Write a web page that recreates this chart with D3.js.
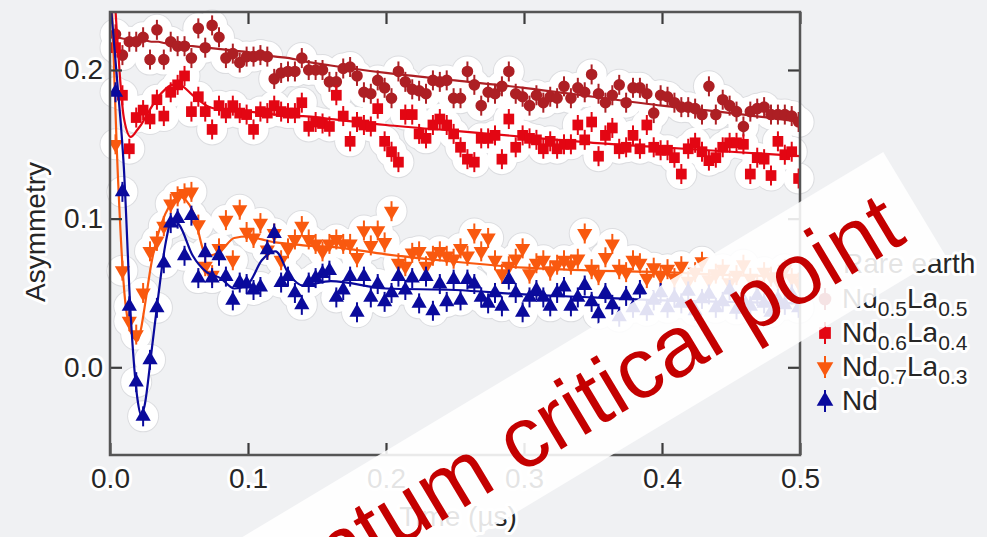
<!DOCTYPE html>
<html>
<head>
<meta charset="utf-8">
<script src="https://cdn.jsdelivr.net/npm/d3@7"></script>
<style>
  body { margin: 0; background: #f0f1f3; }
  svg { display: block; font-family: "Liberation Sans", Arial, sans-serif; }
</style>
</head>
<body>
<svg width="987" height="537"></svg>
<script>
// time bins (us)
var times = [
  0.004, 0.009, 0.014, 0.019, 0.024, 0.029, 0.034, 0.039, 0.044, 0.049,
  0.054, 0.059, 0.064, 0.069, 0.074, 0.079, 0.084, 0.089, 0.094, 0.099,
  0.104, 0.109, 0.114, 0.119, 0.124, 0.129, 0.134, 0.139, 0.144, 0.149,
  0.154, 0.159, 0.164, 0.169, 0.174, 0.179, 0.184, 0.189, 0.194, 0.199,
  0.204, 0.209, 0.214, 0.219, 0.224, 0.229, 0.234, 0.239, 0.244, 0.249,
  0.254, 0.259, 0.264, 0.269, 0.274, 0.279, 0.284, 0.289, 0.294, 0.299,
  0.304, 0.309, 0.314, 0.319, 0.324, 0.329, 0.334, 0.339, 0.344, 0.349,
  0.354, 0.359, 0.364, 0.369, 0.374, 0.379, 0.384, 0.389, 0.394, 0.399,
  0.404, 0.409, 0.414, 0.419, 0.424, 0.429, 0.434, 0.439, 0.444, 0.449,
  0.454, 0.459, 0.464, 0.469, 0.474, 0.479, 0.484, 0.489, 0.494, 0.499
];

// Nd0.5La0.5
var nd05 = [
  0.224, 0.210, 0.219, 0.219, 0.222, 0.207, 0.227, 0.207, 0.219, 0.216,
  0.216, 0.208, 0.228, 0.215, 0.230, 0.222, 0.208, 0.211, 0.205, 0.209,
  0.209, 0.210, 0.209, 0.194, 0.198, 0.199, 0.199, 0.208, 0.200, 0.200,
  0.200, 0.192, 0.192, 0.201, 0.202, 0.196, 0.185, 0.184, 0.193, 0.188,
  0.181, 0.199, 0.192, 0.187, 0.186, 0.184, 0.193, 0.192, 0.193, 0.181,
  0.181, 0.199, 0.190, 0.176, 0.185, 0.184, 0.189, 0.199, 0.184, 0.182,
  0.176, 0.183, 0.178, 0.182, 0.181, 0.189, 0.181, 0.188, 0.185, 0.197,
  0.184, 0.178, 0.183, 0.190, 0.178, 0.188, 0.188, 0.184, 0.171, 0.183,
  0.182, 0.178, 0.175, 0.175, 0.174, 0.170, 0.189, 0.170, 0.180, 0.176,
  0.172, 0.162, 0.172, 0.174, 0.175, 0.170, 0.170, 0.170, 0.169, 0.165
];

// Nd0.6La0.4
var nd06 = [
  0.215, 0.183, 0.147, 0.168, 0.173, 0.167, 0.180, 0.169, 0.185, 0.190,
  0.196, 0.172, 0.182, 0.172, 0.160, 0.176, 0.171, 0.176, 0.171, 0.170,
  0.160, 0.172, 0.171, 0.176, 0.172, 0.171, 0.171, 0.178, 0.162, 0.165,
  0.164, 0.162, 0.183, 0.169, 0.152, 0.165, 0.163, 0.162, 0.174, 0.152,
  0.145, 0.138, 0.170, 0.170, 0.157, 0.154, 0.163, 0.167, 0.163, 0.157,
  0.148, 0.140, 0.138, 0.154, 0.154, 0.156, 0.140, 0.167, 0.148, 0.156,
  0.154, 0.153, 0.147, 0.152, 0.147, 0.150, 0.150, 0.163, 0.153, 0.165,
  0.142, 0.156, 0.161, 0.147, 0.148, 0.156, 0.147, 0.163, 0.148, 0.146,
  0.146, 0.141, 0.130, 0.147, 0.151, 0.145, 0.139, 0.141, 0.148, 0.151,
  0.151, 0.150, 0.130, 0.141, 0.140, 0.129, 0.152, 0.143, 0.145, 0.127
];

// Nd0.7La0.3
var nd07 = [
  0.150, 0.065, 0.031, 0.022, 0.050, 0.078, 0.085, 0.095, 0.110, 0.115,
  0.117, 0.118, 0.096, 0.068, 0.062, 0.080, 0.099, 0.072, 0.106, 0.091,
  0.087, 0.097, 0.079, 0.090, 0.072, 0.080, 0.086, 0.095, 0.086, 0.083,
  0.078, 0.083, 0.086, 0.083, 0.083, 0.074, 0.092, 0.082, 0.092, 0.084,
  0.105, 0.070, 0.068, 0.077, 0.078, 0.068, 0.075, 0.078, 0.075, 0.073,
  0.080, 0.075, 0.090, 0.078, 0.087, 0.072, 0.063, 0.068, 0.073, 0.080,
  0.063, 0.070, 0.072, 0.065, 0.069, 0.072, 0.069, 0.073, 0.090, 0.066,
  0.062, 0.074, 0.083, 0.066, 0.064, 0.072, 0.070, 0.060, 0.067, 0.062,
  0.066, 0.060, 0.068, 0.058, 0.064, 0.071, 0.059, 0.063, 0.066, 0.057,
  0.062, 0.069, 0.060, 0.056, 0.064, 0.061, 0.058, 0.066, 0.060, 0.057
];

// Nd
var nd = [
  0.185, 0.118, 0.041, -0.010, -0.033, 0.005, 0.040, 0.070, 0.097, 0.100,
  0.075, 0.102, 0.060, 0.077, 0.060, 0.075, 0.061, 0.045, 0.057, 0.056,
  0.052, 0.054, 0.079, 0.090, 0.057, 0.061, 0.050, 0.042, 0.057, 0.060,
  0.063, 0.065, 0.047, 0.052, 0.061, 0.037, 0.061, 0.047, 0.056, 0.044,
  0.050, 0.061, 0.052, 0.060, 0.043, 0.061, 0.038, 0.056, 0.044, 0.059,
  0.045, 0.059, 0.056, 0.047, 0.043, 0.050, 0.041, 0.059, 0.050, 0.037,
  0.047, 0.052, 0.047, 0.041, 0.050, 0.054, 0.041, 0.047, 0.055, 0.044,
  0.036, 0.050, 0.042, 0.034, 0.048, 0.040, 0.052, 0.038, 0.045, 0.050,
  0.040, 0.047, 0.043, 0.051, 0.038, 0.046, 0.049, 0.040, 0.044, 0.052,
  0.039, 0.045, 0.041, 0.048, 0.043, 0.037, 0.046, 0.042, 0.049, 0.040
];

// fitted curves
var fitTimes = [0, 0.005, 0.01, 0.015, 0.02, 0.0225, 0.025, 0.03, 0.035, 0.04, 0.045, 0.05,
  0.06, 0.07, 0.08, 0.09, 0.1, 0.11, 0.12, 0.13, 0.14, 0.16, 0.2, 0.25, 0.3, 0.35, 0.4, 0.45, 0.5];
var fit05 = [0.222, 0.222, 0.221, 0.221, 0.220, 0.220, 0.220, 0.219, 0.219, 0.218, 0.218, 0.217,
  0.216, 0.215, 0.214, 0.213, 0.212, 0.210, 0.209, 0.208, 0.206, 0.203, 0.198, 0.193, 0.188, 0.182, 0.176, 0.171, 0.165];
var fit06 = [0.300, 0.225, 0.168, 0.155, 0.160, 0.163, 0.167, 0.175, 0.182, 0.187, 0.190, 0.190,
  0.183, 0.176, 0.173, 0.172, 0.172, 0.171, 0.170, 0.169, 0.169, 0.167, 0.163, 0.159, 0.155, 0.151, 0.148, 0.145, 0.142];
var fit07 = [0.280, 0.145, 0.055, 0.024, 0.018, 0.026, 0.040, 0.070, 0.090, 0.103, 0.111, 0.115,
  0.105, 0.075, 0.078, 0.087, 0.088, 0.086, 0.084, 0.083, 0.082, 0.081, 0.076, 0.071, 0.067, 0.065, 0.064, 0.062, 0.061];
var fitNd = [0.250, 0.195, 0.135, 0.035, -0.022, -0.032, -0.026, 0.010, 0.048, 0.082, 0.099, 0.096,
  0.075, 0.064, 0.060, 0.053, 0.056, 0.072, 0.078, 0.062, 0.055, 0.058, 0.053, 0.052, 0.049, 0.047, 0.045, 0.044, 0.043];

var xTicks = [0, 0.1, 0.2, 0.3, 0.4, 0.5];
var yTicks = [0, 0.1, 0.2];

// legend labels, odd parts are subscripts
var legendTitle = "Rare earth";
var legendLabels = [["Nd", "0.5", "La", "0.5"], ["Nd", "0.6", "La", "0.4"], ["Nd", "0.7", "La", "0.3"], ["Nd"]];

var series = [
  {values: nd05, fit: fit05, color: "#ad1f24", symbol: d3.symbolCircle, size: 105, rot: 0},
  {values: nd06, fit: fit06, color: "#e30613", symbol: d3.symbolSquare, size: 115, rot: 0},
  {values: nd07, fit: fit07, color: "#f9590f", symbol: d3.symbolTriangle, size: 100, rot: 180},
  {values: nd, fit: fitNd, color: "#0a0a9c", symbol: d3.symbolTriangle, size: 100, rot: 0}
];

var svg = d3.select("svg");
var x = d3.scaleLinear().domain([0, 0.5]).range([110, 800]);
var y = d3.scaleLinear().domain([-0.059, 0.239]).range([455, 12]);

svg.append("rect").attr("width", 987).attr("height", 537).attr("fill", "#f0f1f3");

var defs = svg.append("defs");
defs.append("clipPath").attr("id", "plot")
  .append("rect").attr("x", 110).attr("y", 12).attr("width", 690).attr("height", 443);

//white cut-out patches round the data, with a faint edge
var patches = svg.append("g");
[16, 15].forEach(function(r, k) {
  series.forEach(function(s) {
    patches.selectAll(null)
      .data(times.map(function(t, i) { return {t: t, v: s.values[i]}; }))
      .enter().append("circle")
      .attr("cx", function(d) { return x(d.t); })
      .attr("cy", function(d) { return y(d.v); })
      .attr("r", r)
      .attr("fill", k == 0 ? "#dcdde0" : "#ffffff");
  });
});

var plot = svg.append("g").attr("clip-path", "url(#plot)");

var line = d3.line()
  .x(function(d) { return x(d.t); })
  .y(function(d) { return y(d.v); })
  .curve(d3.curveMonotoneX);

series.forEach(function(s) {
  plot.append("path")
    .datum(fitTimes.map(function(t, i) { return {t: t, v: s.fit[i]}; }))
    .attr("d", line)
    .attr("fill", "none")
    .attr("stroke", s.color)
    .attr("stroke-width", 2.2);

  var pts = plot.selectAll(null)
    .data(times.map(function(t, i) { return {t: t, v: s.values[i]}; }))
    .enter().append("g")
    .attr("transform", function(d) { return "translate(" + x(d.t) + "," + y(d.v) + ")"; });

  pts.append("line")
    .attr("y1", -10).attr("y2", 10)
    .attr("stroke", s.color).attr("stroke-width", 2);

  pts.append("path")
    .attr("d", d3.symbol().type(s.symbol).size(s.size))
    .attr("transform", "rotate(" + s.rot + ")")
    .attr("fill", s.color);
});

// axes, ticks pointing inwards
function styleAxis(g, labels) {
  g.select(".domain").remove();
  g.selectAll(".tick line").attr("stroke", "#3c3c3c").attr("stroke-width", 2.2);
  g.selectAll("text")
    .attr("font-size", labels ? 28 : 0)
    .attr("font-family", "Liberation Sans, Arial, sans-serif")
    .attr("fill", "#262626")
    .attr("stroke", "#ffffff").attr("stroke-width", 6)
    .attr("stroke-linejoin", "round")
    .attr("paint-order", "stroke");
}

svg.append("g").attr("transform", "translate(0,455)")
  .call(d3.axisBottom(x).tickValues(xTicks).tickFormat(d3.format(".1f")).tickSizeInner(-12).tickSizeOuter(0).tickPadding(13))
  .call(styleAxis, true);
svg.append("g").attr("transform", "translate(0,12)")
  .call(d3.axisTop(x).tickValues(xTicks).tickFormat(function() { return ""; }).tickSizeInner(-12).tickSizeOuter(0))
  .call(styleAxis, false);
svg.append("g").attr("transform", "translate(110,0)")
  .call(d3.axisLeft(y).tickValues(yTicks).tickFormat(d3.format(".1f")).tickSizeInner(-12).tickSizeOuter(0).tickPadding(7))
  .call(styleAxis, true);
svg.append("g").attr("transform", "translate(800,0)")
  .call(d3.axisRight(y).tickValues(yTicks).tickFormat(function() { return ""; }).tickSizeInner(-12).tickSizeOuter(0))
  .call(styleAxis, false);

svg.append("rect")
  .attr("x", 110).attr("y", 12).attr("width", 690).attr("height", 443)
  .attr("fill", "none").attr("stroke", "#555555").attr("stroke-width", 2.5);

function halo(sel) {
  sel.attr("fill", "#262626")
    .attr("stroke", "#ffffff").attr("stroke-width", 6)
    .attr("stroke-linejoin", "round")
    .attr("paint-order", "stroke");
}

svg.append("text")
  .attr("transform", "translate(45,232) rotate(-90)")
  .attr("text-anchor", "middle")
  .attr("font-size", 28)
  .text("Asymmetry")
  .call(halo);

svg.append("text")
  .attr("x", 458).attr("y", 526)
  .attr("text-anchor", "middle")
  .attr("font-size", 28)
  .text("Time (\u00b5s)")
  .call(halo);

// legend
var legend = svg.append("g");
legend.append("text")
  .attr("x", 843).attr("y", 273)
  .attr("font-size", 28)
  .text(legendTitle)
  .call(halo);

legendLabels.forEach(function(parts, i) {
  var ly = 308 + i * 34;
  var s = series[i];
  var mark = legend.append("g").attr("transform", "translate(825," + (ly - 9) + ")");
  mark.append("line").attr("y1", -11).attr("y2", 11).attr("stroke", s.color).attr("stroke-width", 2);
  mark.append("path")
    .attr("d", d3.symbol().type(s.symbol).size(s.size * 1.2))
    .attr("transform", "rotate(" + s.rot + ")")
    .attr("fill", s.color);

  var t = legend.append("text").attr("x", 842).attr("y", ly).attr("font-size", 28).call(halo);
  parts.forEach(function(p, k) {
    var sp = t.append("tspan").text(p);
    if (k % 2 == 1) sp.attr("font-size", 21).attr("dy", 8);
    else if (k > 0) sp.attr("dy", -8);
  });
});

// banner laid over the figure
var banner = svg.append("g").attr("transform", "translate(537,430) rotate(-31)");
banner.append("rect")
  .attr("x", -720).attr("y", -60).attr("width", 1160).attr("height", 120)
  .attr("fill", "#ffffff").attr("fill-opacity", 0.88);
banner.append("text")
  .attr("x", 0).attr("y", 29)
  .attr("text-anchor", "middle")
  .attr("font-size", 86)
  .attr("fill", "#c40000")
  .text("Quantum critical point");
</script>
</body>
</html>
